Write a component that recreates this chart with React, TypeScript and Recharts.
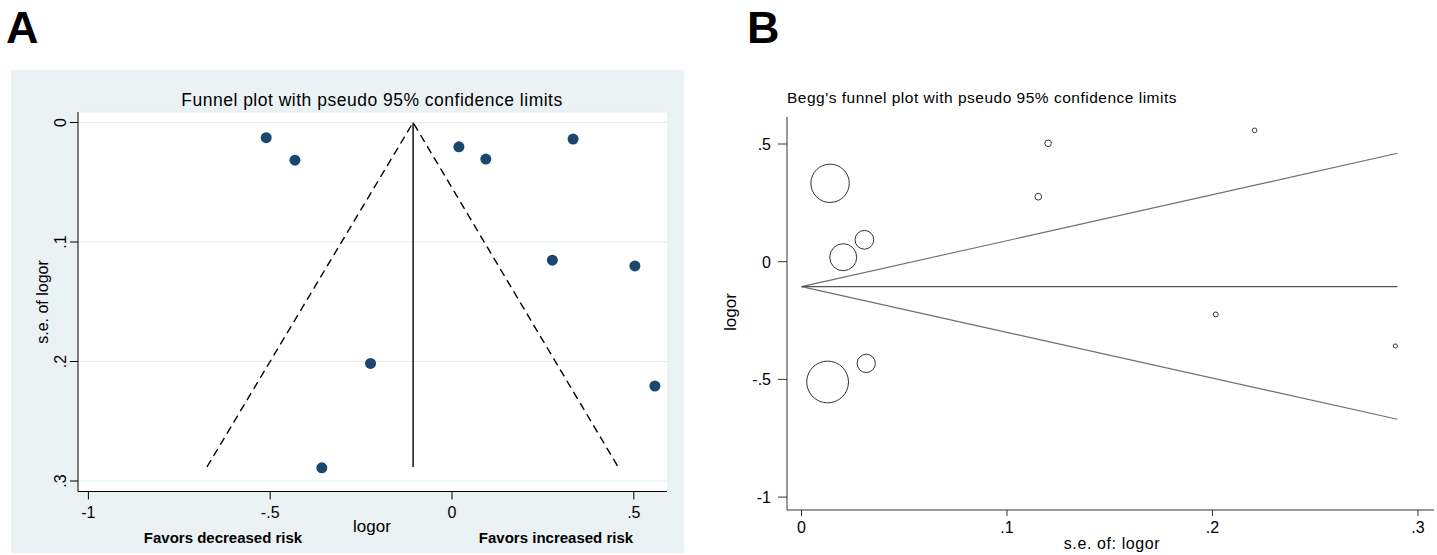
import React from "react";
import { CartesianGrid, Scatter, ScatterChart, XAxis, YAxis } from "recharts";

// study estimates (same ten studies in both panels)
const logor = [-0.511, -0.432, 0.019, 0.093, 0.333, 0.276, 0.503, -0.224, 0.558, -0.358];
const seLogor = [0.0127, 0.0315, 0.0203, 0.0306, 0.0139, 0.1152, 0.12, 0.2016, 0.2205, 0.289];

// panel A: pseudo 95% limits and pooled line
const funnelAX = [-0.674, -0.107, 0.457];
const funnelAY = [0.2883, 0, 0.2883];
const centerAX = [-0.107, -0.107];
const centerAY = [0, 0.2883];

// panel B: Begg's limits
const beggSe = [0, 0.29];
const beggUpper = [-0.106, 0.4605];
const beggMid = [-0.106, -0.106];
const beggLower = [-0.106, -0.6695];

const ticksAX = [-1, -0.5, 0, 0.5];
const ticksAY = [0, 0.1, 0.2, 0.3];
const ticksBX = [0, 0.1, 0.2, 0.3];
const ticksBY = [-1, -0.5, 0, 0.5];

const FONT = '"Liberation Sans", Arial, Helvetica, sans-serif';

const fmt = (v: number) => (v === 0 ? "0" : String(v).replace("0.", "."));

const studiesA = logor.map((x, i) => ({ x, y: seLogor[i] }));
const studiesB = logor.map((v, i) => ({ se: seLogor[i], v }));
const funnelA = funnelAX.map((x, i) => ({ x, y: funnelAY[i] }));
const centerA = centerAX.map((x, i) => ({ x, y: centerAY[i] }));
const upperB = beggSe.map((se, i) => ({ se, v: beggUpper[i] }));
const midB = beggSe.map((se, i) => ({ se, v: beggMid[i] }));
const lowerB = beggSe.map((se, i) => ({ se, v: beggLower[i] }));

const noDot = () => <g />;

const dotA = (p: any) => <circle cx={p.cx} cy={p.cy} r={5.5} fill="#1a476f" />;

const ringB = (p: any) => (
  <circle
    cx={p.cx}
    cy={p.cy}
    r={0.25 / p.payload.se + 1.2}
    fill="none"
    stroke="#333"
    strokeWidth={1}
  />
);

const AXTick = ({ x, y, payload }: any) => (
  <text x={x} y={y + 18.8} textAnchor="middle" fontSize={16} fontFamily={FONT} fill="#000">
    {fmt(payload.value)}
  </text>
);

const AYTick = ({ x, y, payload }: any) => (
  <text
    transform={`translate(${x - 4},${y}) rotate(-90)`}
    textAnchor="middle"
    fontSize={16}
    fontFamily={FONT}
    fill="#000"
  >
    {fmt(payload.value)}
  </text>
);

const BXTick = ({ x, y, payload }: any) => (
  <text x={x} y={y + 17.3} textAnchor="middle" fontSize={16} fontFamily={FONT} fill="#000">
    {fmt(payload.value)}
  </text>
);

const BYTick = ({ x, y, payload }: any) => (
  <text x={x - 7} y={y + 5.8} textAnchor="end" fontSize={16} fontFamily={FONT} fill="#000">
    {fmt(payload.value)}
  </text>
);

export default function App() {
  return (
    <div
      style={{
        position: "absolute",
        left: 0,
        top: 0,
        width: 1437,
        height: 555,
        background: "#fff",
        fontFamily: FONT,
      }}
    >
      {/* Panel A */}
      <div style={{ position: "absolute", left: 11, top: 70, width: 673, height: 483, background: "#eaf2f3" }}>
        <ScatterChart width={673} height={483} margin={{ top: 42, right: 17, bottom: 31.5, left: 27 }}>
          <CartesianGrid vertical={false} stroke="#e3edef" fill="#fff" />
          <XAxis
            type="number"
            dataKey="x"
            domain={[-1.0286, 0.5913]}
            ticks={ticksAX}
            allowDataOverflow
            interval={0}
            height={30}
            tickSize={8}
            tickMargin={0}
            stroke="#000"
            tick={AXTick}
          />
          <YAxis
            type="number"
            dataKey="y"
            reversed
            domain={[-0.0088, 0.3088]}
            ticks={ticksAY}
            allowDataOverflow
            interval={0}
            width={40}
            tickSize={8}
            tickMargin={0}
            stroke="#000"
            tick={AYTick}
          />
          <Scatter
            data={funnelA}
            line={{ stroke: "#000", strokeWidth: 1.4, strokeDasharray: "8 5" }}
            shape={noDot}
            isAnimationActive={false}
          />
          <Scatter
            data={centerA}
            line={{ stroke: "#000", strokeWidth: 1.4 }}
            shape={noDot}
            isAnimationActive={false}
          />
          <Scatter data={studiesA} shape={dotA} isAnimationActive={false} />
        </ScatterChart>
      </div>

      {/* Panel B */}
      <div style={{ position: "absolute", left: 730, top: 110, width: 707, height: 445 }}>
        <ScatterChart width={707} height={445} margin={{ top: 7, right: 3, bottom: 15, left: 17 }}>
          <XAxis
            type="number"
            dataKey="se"
            domain={[-0.00706, 0.3078]}
            ticks={ticksBX}
            allowDataOverflow
            interval={0}
            height={30}
            tickSize={6}
            tickMargin={0}
            stroke="#333"
            tick={BXTick}
          />
          <YAxis
            type="number"
            dataKey="v"
            domain={[-1.0548, 0.6147]}
            ticks={ticksBY}
            allowDataOverflow
            interval={0}
            width={40}
            tickSize={9}
            tickMargin={0}
            stroke="#333"
            tick={BYTick}
          />
          <Scatter data={upperB} line={{ stroke: "#6e6e6e", strokeWidth: 1.1 }} shape={noDot} isAnimationActive={false} />
          <Scatter data={midB} line={{ stroke: "#555", strokeWidth: 1.4 }} shape={noDot} isAnimationActive={false} />
          <Scatter data={lowerB} line={{ stroke: "#6e6e6e", strokeWidth: 1.1 }} shape={noDot} isAnimationActive={false} />
          <Scatter data={studiesB} shape={ringB} isAnimationActive={false} />
        </ScatterChart>
      </div>

      {/* texts */}
      <svg
        width={1437}
        height={555}
        style={{ position: "absolute", left: 0, top: 0, pointerEvents: "none" }}
        fontFamily={FONT}
        fill="#000"
      >
        <text x={6} y={43} fontSize={45} fontWeight="bold">A</text>
        <text x={747} y={43} fontSize={45} fontWeight="bold">B</text>

        <text x={372} y={106} fontSize={17.5} textAnchor="middle" style={{ letterSpacing: 0.5 }}>
          Funnel plot with pseudo 95% confidence limits
        </text>
        <text transform="translate(48,302) rotate(-90)" fontSize={16} textAnchor="middle">
          s.e. of logor
        </text>
        <text x={372} y={532} fontSize={17} textAnchor="middle">logor</text>
        <text x={223} y={543} fontSize={15} fontWeight="bold" textAnchor="middle">
          Favors decreased risk
        </text>
        <text x={556} y={543} fontSize={15} fontWeight="bold" textAnchor="middle">
          Favors increased risk
        </text>

        <text x={787} y={103} fontSize={15.5} style={{ letterSpacing: 0.5 }}>
          Begg's funnel plot with pseudo 95% confidence limits
        </text>
        <text x={1112} y={549} fontSize={16} textAnchor="middle" style={{ letterSpacing: 0.6 }}>
          s.e. of: logor
        </text>
        <text transform="translate(736,312) rotate(-90)" fontSize={17} textAnchor="middle">
          logor
        </text>
      </svg>
    </div>
  );
}
